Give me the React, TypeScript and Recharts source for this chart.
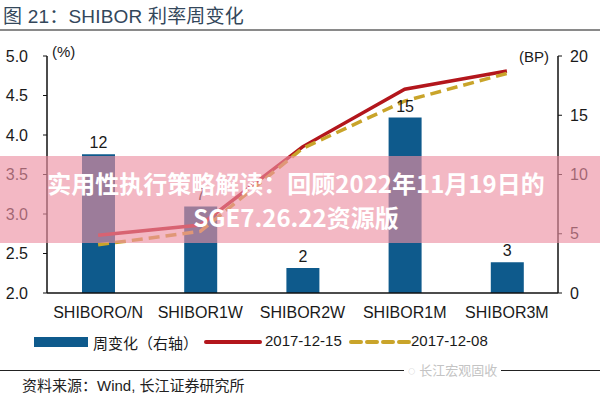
import { ComposedChart, Bar, Line, XAxis, YAxis, LabelList } from 'recharts';

// values
const categories = ['SHIBORO/N', 'SHIBOR1W', 'SHIBOR2W', 'SHIBOR1M', 'SHIBOR3M'];
const weeklyChange = [11.7, 7.3, 2.1, 14.8, 2.6]; // BP, right axis
const weeklyChangeLabels = [12, 7, 2, 15, 3];
const rate20171215 = [2.73, 2.86, 3.85, 4.58, 4.81]; // %
const rate20171208 = [2.61, 2.78, 3.83, 4.43, 4.78]; // %
const leftTicks = [2.0, 2.5, 3.0, 3.5, 4.0, 4.5, 5.0];
const rightTicks = [0, 5, 10, 15, 20];

const chartData = categories.map((name, i) => ({
  name,
  change: weeklyChange[i],
  label: weeklyChangeLabels[i],
  d1215: rate20171215[i],
  d1208: rate20171208[i],
}));

const BLUE = '#0e5a8c';
const RED = '#b3161c';
const GOLD = '#c9a42a';
const SANS = '"Liberation Sans", Arial, "Noto Sans CJK SC", sans-serif';
const CJK = '"Liberation Sans", "Noto Sans CJK SC", sans-serif';

const tickStyle = { fontSize: 16, fill: '#1a1a1a', fontFamily: SANS };

function App() {
  return (
    <div
      style={{
        position: 'fixed',
        left: 0,
        top: 0,
        width: 600,
        height: 400,
        background: '#fff',
        overflow: 'hidden',
        fontFamily: CJK,
      }}
    >
      {/* title */}
      <div style={{ position: 'absolute', left: 3, top: 1, fontSize: 19, color: '#33475b', letterSpacing: 0.2 }}>
        图 21：SHIBOR 利率周变化
      </div>
      <div style={{ position: 'absolute', left: 0, top: 29, width: 600, height: 2, background: '#8a8a8a' }} />

      <div style={{ position: 'absolute', left: 52, top: 43, fontSize: 15, color: '#1a1a1a', fontFamily: SANS }}>(%)</div>
      <div style={{ position: 'absolute', left: 519, top: 48, fontSize: 15, color: '#1a1a1a', fontFamily: SANS }}>(BP)</div>

      <div style={{ position: 'absolute', left: 0, top: 0 }}>
        <ComposedChart
          width={600}
          height={330}
          data={chartData}
          margin={{ top: 56, right: 0, bottom: 0, left: 0 }}
        >
          <XAxis
            dataKey="name"
            height={37}
            tickLine={false}
            tickSize={6}
            tickMargin={8}
            axisLine={{ stroke: '#111', strokeWidth: 1.5 }}
            tick={tickStyle}
            interval={0}
          />
          <YAxis
            yAxisId="left"
            orientation="left"
            width={47}
            domain={[2, 5]}
            ticks={leftTicks}
            tickFormatter={(v: number) => v.toFixed(1)}
            tickSize={4}
            tickMargin={15}
            axisLine={{ stroke: '#111', strokeWidth: 1.5 }}
            tickLine={{ stroke: '#111' }}
            tick={tickStyle}
            allowDataOverflow
          />
          <YAxis
            yAxisId="right"
            orientation="right"
            width={42}
            domain={[0, 20]}
            ticks={rightTicks}
            tickSize={4}
            tickMargin={8}
            axisLine={{ stroke: '#111', strokeWidth: 1.5 }}
            tickLine={{ stroke: '#111' }}
            tick={tickStyle}
          />
          <Bar yAxisId="right" dataKey="change" fill={BLUE} barSize={33} isAnimationActive={false}>
            <LabelList dataKey="label" position="top" offset={6} style={{ fontSize: 16, fill: '#1a1a1a', fontFamily: SANS }} />
          </Bar>
          <Line
            yAxisId="left"
            type="linear"
            dataKey="d1215"
            stroke={RED}
            strokeWidth={3.5}
            dot={false}
            isAnimationActive={false}
          />
          <Line
            yAxisId="left"
            type="linear"
            dataKey="d1208"
            stroke={GOLD}
            strokeWidth={3.5}
            strokeDasharray="11 6"
            dot={false}
            isAnimationActive={false}
          />
        </ComposedChart>
      </div>

      {/* legend */}
      <div style={{ position: 'absolute', left: 0, top: 331, width: 600, height: 22, fontSize: 15, color: '#1a1a1a' }}>
        <div style={{ position: 'absolute', left: 34, top: 6, width: 54, height: 10, background: BLUE }} />
        <div style={{ position: 'absolute', left: 93, top: 1 }}>周变化（右轴）</div>
        <svg style={{ position: 'absolute', left: 204, top: 6 }} width={58} height={10}>
          <line x1={2} y1={5} x2={56} y2={5} stroke={RED} strokeWidth={4} strokeLinecap="round" />
        </svg>
        <div style={{ position: 'absolute', left: 265, top: 1, fontFamily: SANS }}>2017-12-15</div>
        <svg style={{ position: 'absolute', left: 349, top: 6 }} width={62} height={10}>
          <line x1={2} y1={5} x2={60} y2={5} stroke={GOLD} strokeWidth={4} strokeDasharray="10 6" strokeLinecap="round" />
        </svg>
        <div style={{ position: 'absolute', left: 411, top: 1, fontFamily: SANS }}>2017-12-08</div>
      </div>

      {/* footer */}
      <div style={{ position: 'absolute', left: 0, top: 370, width: 600, height: 1, background: '#222' }} />
      <div style={{ position: 'absolute', left: 404, top: 360, fontSize: 13, color: '#c4c4c4', background: '#fff', padding: '0 4px' }}>
        ◌ 长江宏观固收
      </div>
      <div style={{ position: 'absolute', left: 22, top: 374, fontSize: 15, color: '#222' }}>
        资料来源：Wind, 长江证券研究所
      </div>

      {/* overlay banner */}
      <div
        style={{
          position: 'absolute',
          left: 0,
          top: 156,
          width: 600,
          height: 87,
          background: 'rgba(237,144,162,0.64)',
          color: '#fff',
          fontFamily: '"Noto Sans CJK SC", "DejaVu Sans", sans-serif',
          fontWeight: 700,
          fontSize: 24,
          lineHeight: '34px',
          textAlign: 'center',
          paddingTop: 10,
          paddingRight: 8,
          boxSizing: 'border-box',
          pointerEvents: 'none',
        }}
      >
        <div>实用性执行策略解读：回顾2022年11月19日的</div>
        <div>SGE7.26.22资源版</div>
      </div>
    </div>
  );
}

export default App;
